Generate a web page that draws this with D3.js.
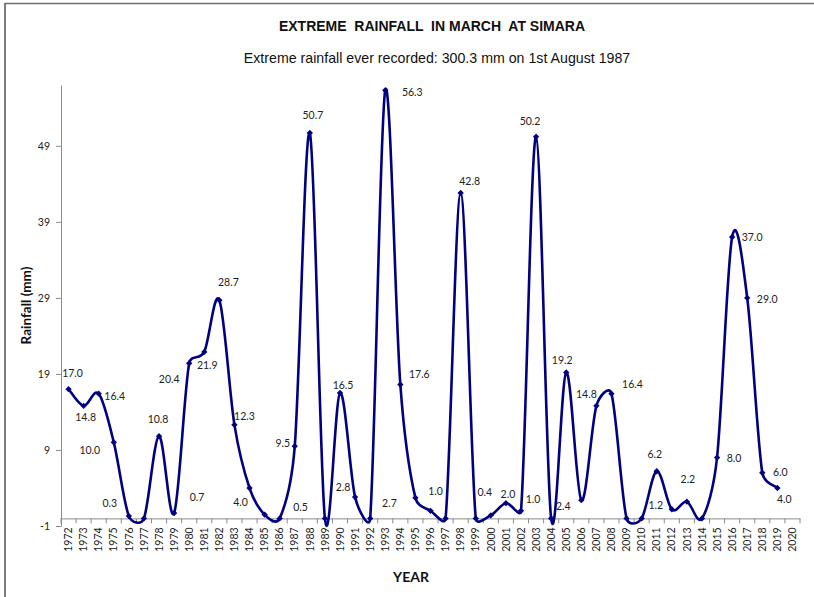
<!DOCTYPE html>
<html>
<head>
<meta charset="utf-8">
<script src="https://cdn.jsdelivr.net/npm/d3@7"></script>
<style>
  html, body { margin: 0; padding: 0; background: #fff; }
  svg { display: block; }
</style>
</head>
<body>
<svg id="chart" width="814" height="597"></svg>
<script>
// ---------- DATA ----------
const years = ["1972","1973","1974","1975","1976","1977","1978","1979","1980","1981",
  "1982","1983","1984","1985","1986","1987","1988","1989","1990","1991",
  "1992","1993","1994","1995","1996","1997","1998","1999","2000","2001",
  "2002","2003","2004","2005","2006","2007","2008","2009","2010","2011",
  "2012","2013","2014","2015","2016","2017","2018","2019","2020"];
const rainfall = [17.0,14.8,16.4,10.0,0.3,0,10.8,0.7,20.4,21.9,
  28.7,12.3,4.0,0.5,0,9.5,50.7,0,16.5,2.8,
  0,56.3,17.6,2.7,1.0,0,42.8,0,0.4,2.0,
  1.0,50.2,0,19.2,2.4,14.8,16.4,0,0,6.2,
  1.2,2.2,0,8.0,37.0,29.0,6.0,4.0,null];
const yTicks = [-1, 9, 19, 29, 39, 49];
const titleText = "EXTREME  RAINFALL  IN MARCH  AT SIMARA";
const subtitleText = "Extreme rainfall ever recorded: 300.3 mm on 1st August 1987";
const yTitle = "Rainfall (mm)";
const xTitle = "YEAR";

// label placement (offset of label centre from its point, px); null = no label
const labelOffsets = [[4,-16],[2,11],[16,3],[-24,8],[-19,-13],null,[-1,-17],[23,-16],[-20,16],[3,13],
  [9,-18],[10,-9],[-9,14],[36,-7],null,[-12,-3],[3,-18],null,[3,-8],[-12,-10],
  null,[27,2],[19,-10],[-26,5],[5,-19],null,[9,-12],null,[-6,-23],[2,-9],
  [12,-11],[-6,-15],null,[-4,-12],[-18,6],[-10,-12],[21,-9],null,null,[-2,-17],
  [-16,-4],[1,-22],null,[17,1],[20,0],[20,1],[18,0],[7,11],null];

// ---------- LAYOUT ----------
const svg = d3.select("#chart");
const navy = "#000080";
const axisColor = "#8c8c8c";
const labelFont = "Lato, 'Liberation Sans', Arial, sans-serif";

const x = d3.scaleBand().domain(years).range([61, 800]).paddingInner(0).paddingOuter(0);
const y = d3.scaleLinear().domain([-1, 57]).range([526, 85]);
const cx = d => x(d) + x.bandwidth() / 2;

// frame lines
svg.append("line").attr("x1", 5).attr("x2", 814).attr("y1", 3.5).attr("y2", 3.5)
  .attr("stroke", "#6e6e6e").attr("stroke-width", 1.6);
svg.append("line").attr("x1", 5).attr("x2", 5).attr("y1", 3).attr("y2", 597)
  .attr("stroke", "#6e6e6e").attr("stroke-width", 1.8);

// titles
svg.append("text").attr("x", 432).attr("y", 31).attr("text-anchor", "middle")
  .style("white-space", "pre")
  .attr("font-family", "'Liberation Sans', Arial, sans-serif").attr("font-weight", "bold")
  .attr("font-size", 14).attr("fill", "#111").text(titleText);
svg.append("text").attr("x", 437).attr("y", 63).attr("text-anchor", "middle")
  .attr("font-family", "'Liberation Sans', Arial, sans-serif")
  .attr("font-size", 14.2).attr("fill", "#111").text(subtitleText);

// y axis
const yAxis = svg.append("g").attr("transform", "translate(61,0)")
  .call(d3.axisLeft(y).tickValues(yTicks).tickSize(5).tickSizeOuter(0).tickPadding(6).tickFormat(d => String(d)));
yAxis.select(".domain").attr("stroke", axisColor);
yAxis.selectAll(".tick line").attr("stroke", axisColor);
yAxis.selectAll(".tick text").attr("font-family", labelFont).attr("font-size", 10.5).attr("fill", "#222");

// x axis at value 0
const y0 = y(0);
const xAxis = svg.append("g").attr("transform", `translate(0,${y0})`)
  .call(d3.axisBottom(x).tickSize(0).tickSizeOuter(0).tickPadding(0));
xAxis.select(".domain").attr("stroke", axisColor);
xAxis.selectAll(".tick text")
  .attr("font-family", labelFont).attr("font-size", 10.5).attr("fill", "#222")
  .attr("text-anchor", "end").attr("transform", "rotate(-90)")
  .attr("x", -9).attr("y", 0).attr("dy", "0.35em");
// boundary tick marks
const bounds = years.map(d => x(d)).concat([x(years[years.length - 1]) + x.bandwidth()]);
svg.append("g").selectAll("line").data(bounds).join("line")
  .attr("x1", d => d).attr("x2", d => d).attr("y1", y0).attr("y2", y0 + 5)
  .attr("stroke", axisColor);

// axis titles
svg.append("text").attr("transform", `translate(31,${(y(57)+y(-1))/2}) rotate(-90)`)
  .attr("text-anchor", "middle").attr("font-family", labelFont).attr("font-weight", "bold")
  .attr("font-size", 13.5).attr("fill", "#111").text(yTitle);
svg.append("text").attr("x", 411).attr("y", 582).attr("text-anchor", "middle")
  .attr("font-family", labelFont).attr("font-weight", "bold")
  .attr("font-size", 14).attr("fill", "#111").text(xTitle);

// data
const pts = years.map((yr, i) => ({ yr, v: rainfall[i], off: labelOffsets[i] }));
const valid = pts.filter(d => d.v != null);

// spreadsheet-style smoothed line: Catmull-Rom control vectors, limited to half the segment length
function smoothPath(p) {
  const path = d3.path();
  const clamp = (v, maxLen) => {
    const len = Math.hypot(v[0], v[1]);
    return len > maxLen && len > 0 ? [v[0] * maxLen / len, v[1] * maxLen / len] : v;
  };
  path.moveTo(p[0][0], p[0][1]);
  for (let i = 0; i < p.length - 1; i++) {
    const p0 = p[Math.max(0, i - 1)], p1 = p[i], p2 = p[i + 1], p3 = p[Math.min(p.length - 1, i + 2)];
    const d12 = Math.hypot(p2[0] - p1[0], p2[1] - p1[1]);
    const v1 = clamp([(p2[0] - p0[0]) / 6, (p2[1] - p0[1]) / 6], d12 * 0.5);
    const v2 = clamp([(p3[0] - p1[0]) / 6, (p3[1] - p1[1]) / 6], d12 * 0.5);
    path.bezierCurveTo(p1[0] + v1[0], p1[1] + v1[1], p2[0] - v2[0], p2[1] - v2[1], p2[0], p2[1]);
  }
  return path.toString();
}

svg.append("path")
  .attr("d", smoothPath(valid.map(d => [cx(d.yr), y(d.v)])))
  .attr("fill", "none").attr("stroke", navy).attr("stroke-width", 2.6)
  .attr("stroke-linejoin", "round");

const diamond = d3.symbol().type(d3.symbolSquare).size(20);
svg.append("g").selectAll("path").data(valid).join("path")
  .attr("d", diamond)
  .attr("transform", d => `translate(${cx(d.yr)},${y(d.v)}) rotate(45)`)
  .attr("fill", navy);

svg.append("g").selectAll("text").data(valid.filter(d => d.off)).join("text")
  .attr("x", d => cx(d.yr) + d.off[0]).attr("y", d => y(d.v) + d.off[1])
  .attr("dy", "0.35em").attr("text-anchor", "middle")
  .attr("font-family", labelFont).attr("font-size", 10.5).attr("fill", "#222")
  .text(d => d.v.toFixed(1));
</script>
</body>
</html>
